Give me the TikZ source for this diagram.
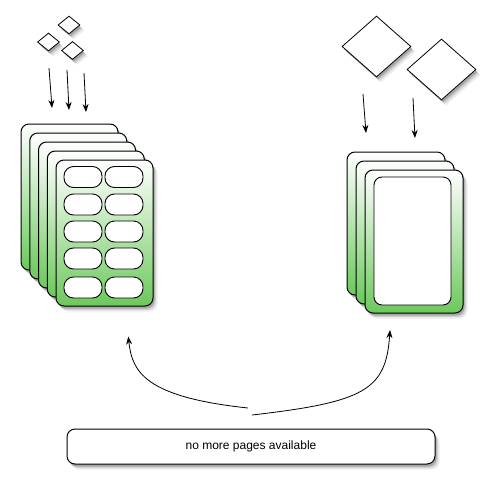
\documentclass[tikz,border=0pt]{standalone}
\usepackage{fontspec}
\setmainfont{Liberation Sans}
\usetikzlibrary{shapes.geometric,shadows,arrows.meta}
\definecolor{cardgreen}{RGB}{108,200,92}
\tikzset{
  shad/.style={
    drop shadow={shadow xshift=4.5pt,shadow yshift=-5.5pt,opacity=.07,fill=black},
    drop shadow={shadow xshift=3pt,shadow yshift=-4pt,opacity=.12,fill=black},
    drop shadow={shadow xshift=1.5pt,shadow yshift=-2.5pt,opacity=.2,fill=black}},
  card/.style={draw=black,line width=1pt,rounded corners=8pt,top color=white,bottom color=cardgreen,shad,inner sep=0pt},
  lcard/.style={card,minimum width=97pt,minimum height=146pt},
  rcard/.style={card,minimum width=98pt,minimum height=143pt},
  pill/.style={draw=black,line width=0.9pt,fill=white,rounded corners=9.5pt,minimum width=38pt,minimum height=21pt,inner sep=0pt},
  inner/.style={draw=black,line width=0.9pt,fill=white,rounded corners=8pt,minimum width=77pt,minimum height=128pt,inner sep=0pt},
  dia/.style={diamond,draw=black,line width=0.8pt,fill=white,inner sep=0pt,shad},
  sdia/.style={dia,minimum width=22pt,minimum height=18pt},
  bdia/.style={dia,minimum width=69pt,minimum height=61pt},
  arr/.style={draw=black,line width=0.8pt,-{Stealth[length=8pt,width=6pt]}},
  msgbox/.style={draw=black,line width=1pt,fill=white,rounded corners=8pt,minimum width=368pt,minimum height=35pt,inner sep=0pt,shad,font=\fontsize{12}{14}\selectfont}
}
\begin{document}
\begin{tikzpicture}[x=1pt,y=-1pt]
\useasboundingbox[fill=white] (0,0) rectangle (496,488);
% left stack of cards
\node[lcard] (L1) at (69.5,197) {};
\node[lcard] (L2) at (78.25,206) {};
\node[lcard] (L3) at (87,215) {};
\node[lcard] (L4) at (95.75,224) {};
\node[lcard] (L5) at (104.5,233) {};
% cells on the front card
\foreach \r/\y in {1/177,2/204.5,3/231.5,4/258.5,5/287.5}{
  \node[pill] (a\r) at (83,\y) {};
  \node[pill] (b\r) at (124,\y) {};
}
% right stack
\node[rcard] (R1) at (396,223.5) {};
\node[rcard] (R2) at (405,232.5) {};
\node[rcard] (R3) at (414,241.5) {};
\node[inner] (RI) at (412.5,241) {};
% small diamonds
\node[sdia] (d1) at (69,25) {};
\node[sdia] (d2) at (48.5,42) {};
\node[sdia] (d3) at (72.5,50.5) {};
% big diamonds
\node[bdia] (D1) at (376.5,46.5) {};
\node[bdia] (D2) at (441.5,69.5) {};
% straight arrows
\coordinate (s1) at (49,68);  \coordinate (e1) at (52,108);
\coordinate (s2) at (67,70);  \coordinate (e2) at (69,110);
\coordinate (s3) at (84,73);  \coordinate (e3) at (86,112);
\coordinate (s4) at (363,94); \coordinate (e4) at (366,133);
\coordinate (s5) at (413,98); \coordinate (e5) at (415,138);
\draw[arr] (s1) -- (e1);
\draw[arr] (s2) -- (e2);
\draw[arr] (s3) -- (e3);
\draw[arr] (s4) -- (e4);
\draw[arr] (s5) -- (e5);
% message box
\node[msgbox] (msg) at (251,446.5) {no more pages available};
% curved arrows
\coordinate (c1) at (248,408);
\coordinate (t1) at (128.3,336.5);
\coordinate (c2) at (252,415);
\coordinate (t2) at (390,330);
\draw[arr] (c1) .. controls (145,397) and (132,372) .. (t1);
\draw[arr] (c2) .. controls (365,402) and (386,390) .. (t2);
\end{tikzpicture}
\end{document}
